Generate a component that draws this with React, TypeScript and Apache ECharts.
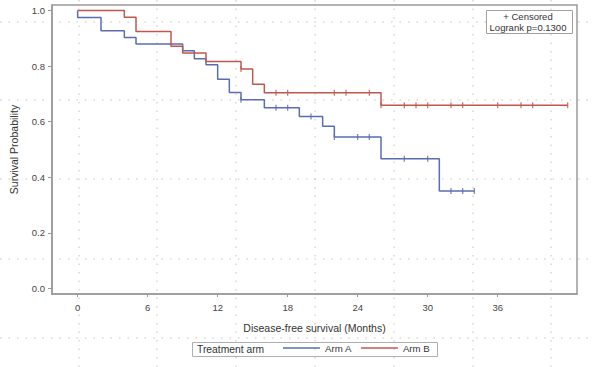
import React, { useEffect, useRef } from "react";
import * as echarts from "echarts";

// Kaplan-Meier step points [month, survival]
const armA: [number, number][] = [
  [0, 1], [0, 0.975], [2, 0.927], [4, 0.903], [5, 0.88], [9, 0.855], [10, 0.827],
  [11, 0.805], [12, 0.753], [13, 0.705], [14, 0.679], [16, 0.65], [19, 0.619],
  [21, 0.584], [22, 0.545], [26, 0.467], [31, 0.351], [34, 0.351],
];
const armB: [number, number][] = [
  [0, 1], [4, 0.976], [5, 0.925], [8, 0.872], [9, 0.847], [11, 0.817], [14, 0.79],
  [15, 0.735], [16, 0.704], [26, 0.659], [42, 0.659],
];
const censorA: [number, number][] = [
  [14, 0.679], [17, 0.65], [18, 0.65], [20, 0.619], [22, 0.545], [24, 0.545], [25, 0.545],
  [28, 0.467], [30, 0.467], [32, 0.351], [33, 0.351], [34, 0.351],
];
const censorB: [number, number][] = [
  [14, 0.79], [17, 0.704], [18, 0.704], [22, 0.704], [23, 0.704], [25, 0.704], [26, 0.659],
  [28, 0.659], [29, 0.659], [30, 0.659], [32, 0.659], [33, 0.659], [36, 0.659],
  [38, 0.659], [39, 0.659], [42, 0.659],
];
const xTicks = [0, 6, 12, 18, 24, 30, 36];
const yTicks = [0, 0.2, 0.4, 0.6, 0.8, 1.0];
const seriesNames = ["Arm A", "Arm B"];

const BLUE = "#5a6db0";
const RED = "#c0574c";
const FONT = "Liberation Sans, Arial, sans-serif";

// decorative page dotted grid (background overlay)
const overlayX = [79, 157, 236, 315, 394, 473, 551];
const overlayY = [22, 100, 179, 259, 338];

export default function App() {
  const ref = useRef<HTMLDivElement>(null);
  useEffect(() => {
    if (!ref.current) return;
    const chart = echarts.init(ref.current, undefined, { renderer: "svg" });
    const dotStyle = { stroke: "#c4c4c4", lineWidth: 1, lineDash: [1.5, 7] };
    const overlay: any[] = [
      ...overlayX.map((x) => ({
        type: "line", silent: true, z: -10,
        shape: { x1: x, y1: 0, x2: x, y2: 367 }, style: dotStyle,
      })),
      ...overlayY.map((y) => ({
        type: "line", silent: true, z: -10,
        shape: { x1: 0, y1: y, x2: 592, y2: y }, style: dotStyle,
      })),
    ];
    chart.setOption({
      animation: false,
      backgroundColor: "#ffffff",
      textStyle: { fontFamily: FONT },
      grid: {
        left: 51, top: 5, right: 15, bottom: 73,
        show: true, borderColor: "#9a9a9a", borderWidth: 1.5,
      },
      xAxis: {
        type: "value", min: -2.2, max: 42.8,
        name: "Disease-free survival (Months)", nameLocation: "middle", nameGap: 28,
        nameTextStyle: { fontSize: 10.5, color: "#333", fontFamily: FONT },
        axisLine: { show: true, onZero: false, lineStyle: { color: "#9a9a9a", width: 1.5 } },
        axisTick: { show: true, length: 3, customValues: xTicks, lineStyle: { color: "#9a9a9a" } },
        axisLabel: { customValues: xTicks, fontSize: 9.5, color: "#444", margin: 8, fontFamily: FONT },
        splitLine: { show: false },
      },
      yAxis: {
        type: "value", min: -0.02, max: 1.02,
        name: "Survival Probability", nameLocation: "middle", nameGap: 33, nameRotate: 90,
        nameTextStyle: { fontSize: 10.5, color: "#333", fontFamily: FONT },
        axisLine: { show: true, onZero: false, lineStyle: { color: "#9a9a9a", width: 1.5 } },
        axisTick: { show: true, length: 4, customValues: yTicks, lineStyle: { color: "#9a9a9a" } },
        axisLabel: {
          customValues: yTicks, fontSize: 9.5, color: "#444", margin: 7, fontFamily: FONT,
          formatter: (v: number) => v.toFixed(1),
        },
        splitLine: { show: false },
      },
      legend: {
        data: seriesNames, left: 283, top: 343, padding: 0,
        icon: "rect", itemWidth: 37, itemHeight: 1.5, itemGap: 9,
        textStyle: { fontSize: 9.7, color: "#333", fontFamily: FONT, padding: [0, 0, 0, 0] },
      },
      series: [
        {
          name: seriesNames[0], type: "line", step: "end", data: armA, symbol: "none",
          lineStyle: { color: BLUE, width: 1.5 }, itemStyle: { color: BLUE },
        },
        {
          name: seriesNames[1], type: "line", step: "end", data: armB, symbol: "none",
          lineStyle: { color: RED, width: 1.5 }, itemStyle: { color: RED },
        },
        {
          name: "Arm A censored", type: "scatter", data: censorA, symbol: "rect",
          symbolSize: [1.3, 6], itemStyle: { color: BLUE },
        },
        {
          name: "Arm B censored", type: "scatter", data: censorB, symbol: "rect",
          symbolSize: [1.3, 6], itemStyle: { color: RED },
        },
      ],
      graphic: [
        ...overlay,
        {
          type: "rect", silent: true,
          shape: { x: 192.5, y: 342.5, width: 245, height: 14 },
          style: { fill: "none", stroke: "#b0b0b0", lineWidth: 1 },
        },
        {
          type: "text", silent: true, x: 197, y: 349.5,
          style: { text: "Treatment arm", fontSize: 10.3, fill: "#333", fontFamily: FONT, verticalAlign: "middle" },
        },
        {
          type: "rect", silent: true,
          shape: { x: 486.5, y: 10.5, width: 86, height: 23 },
          style: { fill: "#fff", stroke: "#a0a0a0", lineWidth: 1 },
        },
        {
          type: "text", silent: true, x: 528, y: 16,
          style: { text: "+ Censored", fontSize: 9.5, fill: "#333", fontFamily: FONT, align: "center", verticalAlign: "middle" },
        },
        {
          type: "text", silent: true, x: 528, y: 27,
          style: { text: "Logrank p=0.1300", fontSize: 9.5, fill: "#333", fontFamily: FONT, align: "center", verticalAlign: "middle" },
        },
      ],
    });
    return () => chart.dispose();
  }, []);
  return (
    <div
      ref={ref}
      style={{ position: "fixed", left: 0, top: 0, width: 592, height: 367 }}
    />
  );
}
